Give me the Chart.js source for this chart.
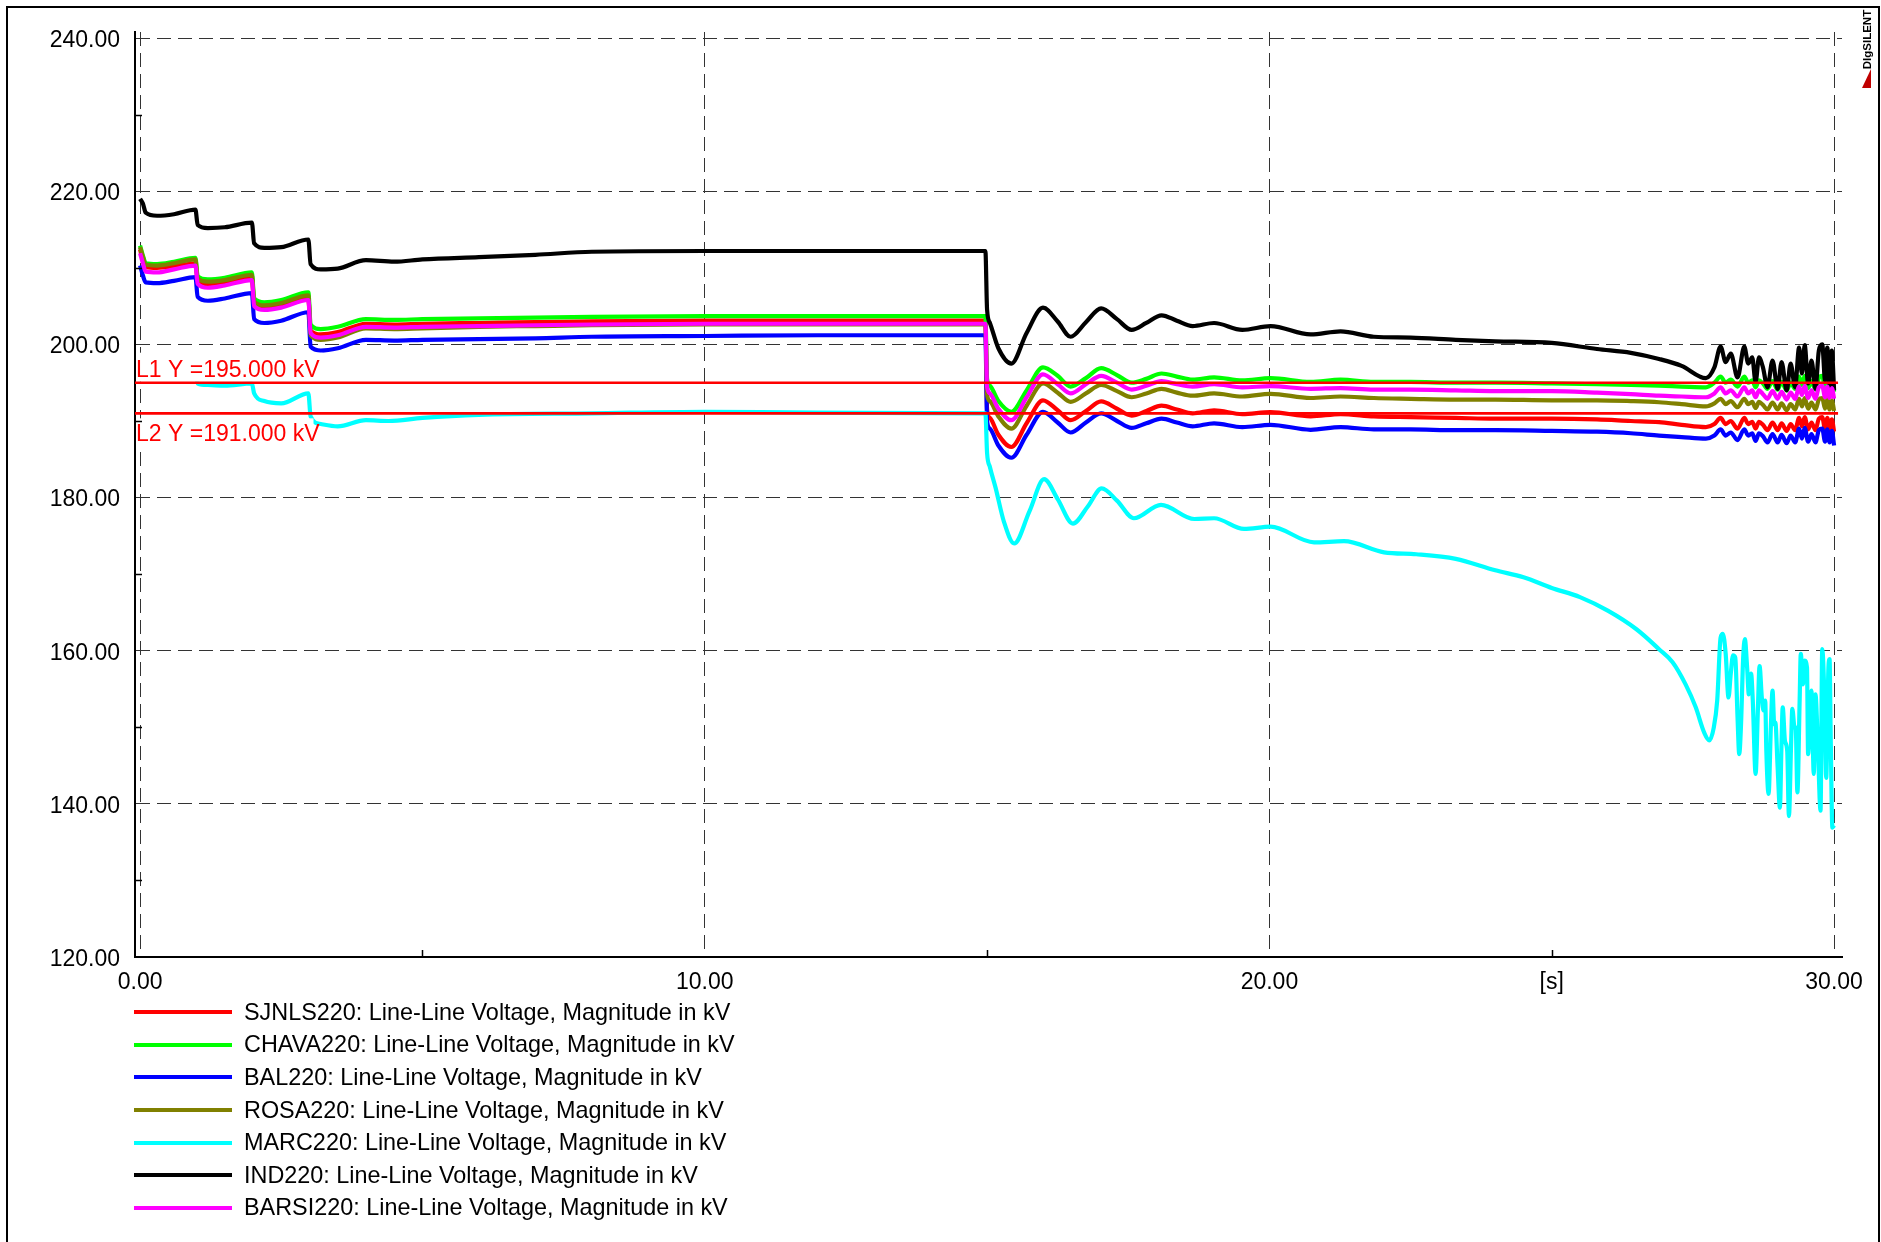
<!DOCTYPE html>
<html>
<head>
<meta charset="utf-8">
<title>Line-Line Voltage</title>
<script src="https://cdn.jsdelivr.net/npm/chart.js@4.4.1/dist/chart.umd.min.js"></script>
<style>
    html, body {
        margin: 0;
        padding: 0;
        background: #fff;
    }

    body {
        width: 1881px;
        height: 1242px;
        position: relative;
        overflow: hidden;
        font-family: "Liberation Sans", Arial, sans-serif;
    }

    #frame {
        position: absolute;
        left: 6px;
        top: 6px;
        width: 1874px;
        height: 1260px;
        border: 2px solid #000;
        box-sizing: border-box;
        pointer-events: none;
    }

    #chart {
        position: absolute;
        left: 0;
        top: 0;
    }

    #legend {
        position: absolute;
        left: 134px;
        top: 996px;
    }

    .item {
        height: 32.6px;
        display: flex;
        align-items: center;
        font-size: 23.4px;
        color: #000;
        white-space: nowrap;
    }

    .swatch {
        width: 98px;
        height: 4px;
        margin-right: 12px;
    }

    #logo {
        position: absolute;
        left: 1858px;
        top: 8px;
        width: 18px;
        height: 84px;
    }

    #logo span {
        position: absolute;
        left: -21px;
        top: 25px;
        width: 60px;
        height: 13px;
        line-height: 13px;
        transform: rotate(-90deg);
        font-size: 11.5px;
        font-weight: bold;
        color: #000;
        white-space: nowrap;
        text-align: center;
    }
</style>
</head>
<body>
<canvas id="chart" width="1881" height="1000"></canvas>
<div id="legend"></div>
<div id="logo">
    <span>DIgSILENT</span>
    <svg width="18" height="84" style="position:absolute;left:0;top:0">
        <polygon points="13,61 13,80 4,80" fill="#c00000"></polygon>
    </svg>
</div>
<div id="frame"></div>

<script>
    // time base shared by most buses [s]
    const timeS = [0, 0.05, 0.1, 0.3, 0.6, 0.98, 1.02, 1.2, 1.5, 1.98,
        2.02, 2.2, 2.5, 2.98, 3.02, 3.2, 3.5, 4.0, 4.5, 5.0,
        6.0, 7.0, 8.0, 10.0, 12.0, 14.97, 15.0, 15.05, 15.2, 15.43,
        15.7, 15.99, 16.25, 16.48, 16.75, 17.02, 17.3, 17.56, 17.82, 18.09,
        18.36, 18.64, 19.02, 19.52, 20.02, 20.73, 21.26, 21.85, 22.5, 23.3,
        24.0, 25.0, 25.8, 26.4, 26.9, 27.3, 27.73, 27.88, 27.99, 28.08,
        28.17, 28.29, 28.41, 28.48, 28.55, 28.61, 28.67, 28.74, 28.82, 28.91,
        29.0, 29.07, 29.16, 29.23, 29.31, 29.38, 29.43, 29.48, 29.54, 29.6,
        29.67, 29.73, 29.79, 29.84, 29.88, 29.92, 29.96, 30.0];

    // MARC220 has its own sampling (fast oscillation at the end)
    const timeMarc = [0, 0.05, 0.1, 0.5, 0.98, 1.02, 1.2, 1.5, 1.98, 2.02,
        2.2, 2.5, 2.98, 3.02, 3.2, 3.5, 4.0, 4.4, 5.0, 6.0,
        8.0, 10.0, 12.0, 14.97, 15.0, 15.05, 15.15, 15.3, 15.48, 15.75,
        16.01, 16.25, 16.52, 16.78, 17.03, 17.3, 17.6, 18.08, 18.67, 19.02,
        19.55, 20.02, 20.79, 21.32, 22.03, 22.6, 23.3, 24.0, 24.5, 25.0,
        25.5, 26.0, 26.5, 26.9, 27.14, 27.37, 27.55, 27.7, 27.79, 27.87,
        27.93, 27.99, 28.03, 28.08, 28.13, 28.17, 28.21, 28.25, 28.29, 28.32,
        28.35, 28.39, 28.42, 28.46, 28.49, 28.53, 28.56, 28.61, 28.65, 28.68,
        28.72, 28.75, 28.78, 28.8, 28.84, 28.88, 28.91, 28.94, 28.96, 29.0,
        29.04, 29.07, 29.09, 29.13, 29.17, 29.2, 29.24, 29.26, 29.3, 29.32,
        29.35, 29.39, 29.41, 29.45, 29.48, 29.52, 29.54, 29.57, 29.6, 29.64,
        29.67, 29.71, 29.76, 29.79, 29.83, 29.86, 29.9, 29.92, 29.94, 29.97,
        30.0];

    // voltages [kV]
    const sjnls = [212.4, 211.0, 210.1, 210.0, 210.2, 210.6, 208.3, 207.9, 208.1, 208.7,
        205.3, 204.8, 205.1, 206.0, 201.8, 201.3, 201.6, 202.7, 202.6, 202.7,
        202.8, 202.9, 203.0, 203.1, 203.1, 203.1, 191.5, 190.4, 188.2, 186.6,
        189.7, 192.7, 191.4, 190.1, 191.3, 192.55, 191.6, 190.7, 191.3, 192.0,
        191.5, 191.0, 191.4, 190.9, 191.15, 190.6, 190.9, 190.6, 190.5, 190.4,
        190.3, 190.3, 190.2, 190.0, 189.85, 189.5, 189.2, 189.6, 190.4, 189.6,
        190.0, 189.0, 190.4, 189.6, 189.9, 189.0, 189.9, 189.5, 188.8, 189.8,
        188.8, 189.7, 188.7, 189.6, 188.8, 190.4, 189.3, 190.5, 188.9, 189.8,
        188.8, 190.3, 190.5, 188.9, 190.4, 188.8, 190.2, 188.6];

    const chava = [212.9, 211.6, 210.6, 210.5, 210.8, 211.3, 208.9, 208.5, 208.7, 209.4,
        206.0, 205.5, 205.8, 206.8, 202.6, 202.0, 202.3, 203.3, 203.2, 203.3,
        203.4, 203.5, 203.6, 203.7, 203.7, 203.7, 195.5, 194.6, 192.6, 191.2,
        194.0, 197.0, 195.9, 194.5, 195.6, 196.9, 196.0, 195.0, 195.5, 196.2,
        195.8, 195.4, 195.7, 195.3, 195.6, 195.1, 195.4, 195.1, 195.1, 195.0,
        195.0, 194.9, 194.8, 194.7, 194.6, 194.5, 194.4, 195.0, 195.8, 195.0,
        195.4, 194.5, 195.8, 195.0, 195.3, 194.4, 195.3, 194.9, 194.2, 195.2,
        194.1, 195.1, 194.0, 195.0, 194.2, 195.8, 194.7, 195.9, 194.3, 195.2,
        194.1, 195.6, 195.9, 194.3, 195.7, 194.2, 195.5, 193.8];

    const bal = [210.3, 209.0, 208.1, 208.0, 208.3, 208.8, 206.2, 205.7, 206.0, 206.7,
        203.3, 202.8, 203.1, 204.2, 199.7, 199.2, 199.5, 200.6, 200.5, 200.6,
        200.7, 200.8, 201.0, 201.1, 201.2, 201.2, 190.0, 189.0, 186.8, 185.2,
        188.2, 191.2, 189.8, 188.5, 189.8, 191.0, 190.0, 189.1, 189.7, 190.3,
        189.8, 189.3, 189.7, 189.2, 189.5, 188.85, 189.2, 188.9, 188.9, 188.8,
        188.8, 188.7, 188.6, 188.4, 188.1, 187.9, 187.7, 188.1, 188.9, 188.1,
        188.5, 187.5, 188.9, 188.1, 188.4, 187.4, 188.4, 188.0, 187.2, 188.3,
        187.2, 188.2, 187.1, 188.1, 187.2, 189.0, 187.7, 189.1, 187.3, 188.3,
        187.2, 188.8, 189.0, 187.3, 188.9, 187.2, 188.7, 186.8];

    const rosa = [212.7, 211.4, 210.4, 210.3, 210.6, 211.1, 208.6, 208.2, 208.4, 209.1,
        205.6, 205.1, 205.4, 206.4, 201.2, 200.6, 200.9, 202.1, 202.0, 202.1,
        202.3, 202.4, 202.5, 202.6, 202.6, 202.6, 193.5, 192.6, 190.6, 189.0,
        192.0, 194.9, 193.7, 192.5, 193.6, 194.7, 193.9, 193.1, 193.6, 194.2,
        193.7, 193.3, 193.6, 193.2, 193.55, 193.0, 193.2, 193.0, 192.9, 192.8,
        192.8, 192.7, 192.7, 192.6, 192.45, 192.2, 191.9, 192.3, 192.9, 192.2,
        192.6, 191.8, 192.9, 192.2, 192.5, 191.7, 192.5, 192.1, 191.5, 192.4,
        191.5, 192.3, 191.4, 192.2, 191.5, 192.9, 191.9, 193.0, 191.6, 192.4,
        191.5, 192.8, 193.0, 191.6, 192.9, 191.5, 192.7, 191.3];

    const marc = [198.2, 196.6, 195.8, 195.7, 196.3, 194.9, 194.7, 194.6, 194.9, 193.6,
        192.6, 192.3, 193.6, 190.6, 189.6, 189.3, 190.1, 190.0, 190.4, 190.8,
        191.0, 191.2, 191.1, 191.0, 185.8, 184.0, 181.3, 176.8, 174.0, 178.2,
        182.4, 179.8, 176.6, 178.8, 181.2, 179.6, 177.3, 179.05, 177.2, 177.3,
        175.9, 176.2, 174.15, 174.3, 172.85, 172.6, 172.0, 170.5, 169.6, 168.2,
        167.0, 165.2, 162.8, 160.2, 158.5, 155.6, 152.6, 149.3, 148.3, 150.0,
        153.5, 161.7, 162.2, 159.6, 153.9, 157.0, 159.4, 159.1, 151.3, 146.5,
        150.0, 159.1, 161.5, 157.8, 154.3, 157.0, 153.5, 143.9, 152.2, 158.0,
        153.9, 152.2, 153.5, 146.9, 141.3, 150.0, 154.8, 150.4, 150.6, 144.8,
        139.5, 148.2, 152.6, 148.2, 146.9, 138.4, 148.2, 152.4, 150.0, 150.0,
        141.5, 153.5, 159.6, 155.6, 158.7, 157.8, 146.5, 150.0, 154.8, 143.9,
        154.3, 148.2, 139.1, 160.2, 153.5, 143.4, 157.8, 158.9, 148.7, 136.9,
        137.2];

    const ind = [219.0, 218.4, 217.2, 216.8, 217.0, 217.6, 215.6, 215.2, 215.3, 215.9,
        213.2, 212.6, 212.7, 213.7, 210.5, 209.8, 209.9, 211.0, 210.8, 211.1,
        211.4, 211.7, 212.1, 212.2, 212.2, 212.2, 204.5, 202.8, 199.5, 197.5,
        201.5, 204.8, 203.0, 201.0, 202.9, 204.7, 203.3, 201.9, 202.8, 203.8,
        203.1, 202.4, 202.8, 201.9, 202.4, 201.3, 201.7, 201.0, 200.9, 200.6,
        200.4, 200.2, 199.4, 198.9, 198.1, 197.2, 195.6, 197.0, 199.7, 197.7,
        198.8, 195.7, 199.7, 197.5, 198.3, 195.1, 198.3, 197.0, 194.4, 197.9,
        194.2, 197.7, 194.0, 197.5, 194.4, 199.6, 196.2, 199.9, 194.9, 197.9,
        194.2, 199.2, 200.0, 195.3, 199.6, 194.4, 199.2, 194.0];

    const barsi = [211.9, 210.6, 209.5, 209.4, 209.8, 210.3, 207.9, 207.4, 207.7, 208.4,
        205.0, 204.5, 204.8, 205.8, 201.5, 200.9, 201.2, 202.3, 202.2, 202.3,
        202.4, 202.5, 202.6, 202.7, 202.7, 202.7, 194.5, 193.6, 191.6, 190.1,
        193.1, 196.1, 194.8, 193.6, 194.8, 195.9, 195.0, 194.1, 194.6, 195.2,
        194.8, 194.5, 194.8, 194.4, 194.55, 194.2, 194.3, 194.1, 194.1, 194.0,
        193.9, 193.9, 193.7, 193.5, 193.3, 193.2, 193.1, 193.6, 194.4, 193.6,
        194.0, 193.2, 194.4, 193.6, 194.0, 193.1, 194.0, 193.5, 192.9, 193.9,
        192.9, 193.8, 192.8, 193.7, 192.9, 194.5, 193.4, 194.6, 193.0, 194.0,
        192.9, 194.4, 194.6, 193.1, 194.5, 193.0, 194.3, 192.9];

    const seriesNames = ['SJNLS220', 'CHAVA220', 'BAL220', 'ROSA220', 'MARC220', 'IND220', 'BARSI220'];
    const seriesValues = [sjnls, chava, bal, rosa, marc, ind, barsi];
    const seriesTimes = [timeS, timeS, timeS, timeS, timeMarc, timeS, timeS];
    const seriesColors = ['#ff0000', '#00ff00', '#0000ff', '#808000', '#00ffff', '#000000', '#ff00ff'];
    const quantityText = ': Line-Line Voltage, Magnitude in kV';

    const xTicks = [0, 10, 20, 25, 30];
    const xUnitTick = 25;
    const xMinor = [5, 15, 25];
    const yTicks = [120, 140, 160, 180, 200, 220, 240];
    const yMinor = [130, 150, 170, 190, 210, 230];

    const refValues = [195, 191];
    const refLabels = ['L1 Y =195.000 kV', 'L2 Y =191.000 kV'];

    const FONT = '"Liberation Sans", Arial, sans-serif';
    Chart.defaults.font.family = FONT;
    Chart.defaults.color = '#000';

    const datasets = seriesNames.map((name, i) => ({
        label: name + quantityText,
        data: seriesTimes[i].map((t, k) => ({ x: t, y: seriesValues[i][k] })),
        borderColor: seriesColors[i],
        backgroundColor: seriesColors[i],
        borderWidth: 4.2,
        pointRadius: 0,
        fill: false,
        cubicInterpolationMode: 'monotone',
        order: seriesNames.length - i
    }));

    // marker lines L1 / L2; captions sit on an opaque white box like in PowerFactory
    const refLinePlugin = {
        id: 'refLines',
        afterDatasetsDraw(chart) {
            const { ctx, chartArea, scales } = chart;
            ctx.save();
            ctx.font = '23px ' + FONT;
            ctx.textBaseline = 'alphabetic';
            refValues.forEach((v, i) => {
                const py = scales.y.getPixelForValue(v);
                const tx = chartArea.left + 1;
                const base = i === 0 ? py - 6 : py + 28;
                const w = ctx.measureText(refLabels[i]).width;
                ctx.fillStyle = '#fff';
                if (i === 0) {
                    ctx.fillRect(tx, base - 24, w + 3, py - 1 - (base - 24));
                } else {
                    ctx.fillRect(tx, py + 5, w - 6, base + 5 - (py + 5));
                }
                ctx.fillStyle = '#ff0000';
                ctx.fillText(refLabels[i], tx, base);
                ctx.strokeStyle = '#ff0000';
                ctx.lineWidth = 2.6;
                ctx.beginPath();
                ctx.moveTo(chartArea.left, py);
                ctx.lineTo(scales.x.getPixelForValue(30.07), py);
                ctx.stroke();
            });
            ctx.restore();
        }
    };

    // small inner ticks between the labelled ones
    const minorTickPlugin = {
        id: 'minorTicks',
        afterDraw(chart) {
            const { ctx, chartArea, scales } = chart;
            ctx.save();
            ctx.strokeStyle = '#000';
            ctx.lineWidth = 1.5;
            ctx.beginPath();
            xMinor.forEach(v => {
                const px = Math.round(scales.x.getPixelForValue(v)) + 0.5;
                ctx.moveTo(px, chartArea.bottom);
                ctx.lineTo(px, chartArea.bottom - 7);
            });
            yMinor.forEach(v => {
                const py = Math.round(scales.y.getPixelForValue(v)) + 0.5;
                ctx.moveTo(chartArea.left, py);
                ctx.lineTo(chartArea.left + 7, py);
            });
            ctx.stroke();
            ctx.restore();
        }
    };

    new Chart(document.getElementById('chart'), {
        type: 'line',
        data: { datasets: datasets },
        options: {
            responsive: false,
            animation: false,
            devicePixelRatio: 1,
            layout: { padding: { left: 0, top: 32, right: 39, bottom: 0 } },
            plugins: {
                legend: { display: false },
                tooltip: { enabled: false }
            },
            scales: {
                x: {
                    type: 'linear',
                    min: -0.09,
                    max: 30.14,
                    afterBuildTicks: scale => { scale.ticks = xTicks.map(v => ({ value: v })); },
                    afterFit: scale => { scale.height = 43; },
                    ticks: {
                        autoSkip: false,
                        maxRotation: 0,
                        padding: 12,
                        color: '#000',
                        font: { size: 23 },
                        callback: v => v === xUnitTick ? '[s]' : v.toFixed(2)
                    },
                    grid: {
                        drawTicks: false,
                        lineWidth: 1,
                        color: c => (c.tick && c.tick.value === xUnitTick) ? 'rgba(0,0,0,0)' : '#333'
                    },
                    border: { display: true, color: '#000', width: 2, dash: [14, 7] }
                },
                y: {
                    type: 'linear',
                    min: 120,
                    max: 240.8,
                    afterBuildTicks: scale => { scale.ticks = yTicks.map(v => ({ value: v })); },
                    afterFit: scale => { scale.width = 135; },
                    ticks: {
                        autoSkip: false,
                        padding: 15,
                        labelOffset: 2.5,
                        color: '#000',
                        font: { size: 23 },
                        callback: v => v.toFixed(2)
                    },
                    grid: { drawTicks: false, lineWidth: 1, color: '#333' },
                    border: { display: true, color: '#000', width: 2, dash: [14, 7] }
                }
            }
        },
        plugins: [refLinePlugin, minorTickPlugin]
    });

    // legend: one row per bus, drawn as plain html below the plot
    const legend = document.getElementById('legend');
    seriesNames.forEach((name, i) => {
        const row = document.createElement('div');
        row.className = 'item';
        const sw = document.createElement('span');
        sw.className = 'swatch';
        sw.style.background = seriesColors[i];
        const txt = document.createElement('span');
        txt.textContent = name + quantityText;
        row.appendChild(sw);
        row.appendChild(txt);
        legend.appendChild(row);
    });
</script>
</body>
</html>
